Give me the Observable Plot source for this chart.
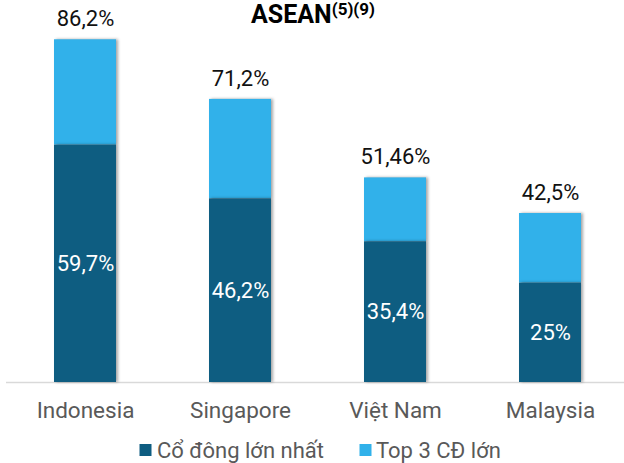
<!DOCTYPE html>
<html>
<head>
<meta charset="utf-8">
<script src="https://cdn.jsdelivr.net/npm/d3@7"></script>
<script src="https://cdn.jsdelivr.net/npm/@observablehq/plot@0.6"></script>
<style>
  html, body { margin: 0; padding: 0; background: #fff; }
  #chart svg { display: block; font-family: Roboto, sans-serif; }
  .bars { filter: drop-shadow(2px 0px 1.5px rgba(0,0,0,0.35)); }
</style>
</head>
<body>
<div id="chart"></div>
<script>
const countries = ["Indonesia", "Singapore", "Việt Nam", "Malaysia"];
const largestHolder = [59.7, 46.2, 35.4, 25];
const top3Holders = [86.2, 71.2, 51.46, 42.5];
const seriesNames = ["Cổ đông lớn nhất", "Top 3 CĐ lớn"];
const seriesColors = ["#0e5d81", "#31b1ea"];
const titleMain = "ASEAN";
const titleSup = "(5)(9)";

const fmt = v => String(v).replace(".", ",") + "%";
const rows = countries.map((c, i) => ({country: c, largest: largestHolder[i], top3: top3Holders[i]}));

const chart = Plot.plot({
  width: 624,
  height: 463,
  marginTop: 0,
  marginLeft: 6,
  marginRight: 0,
  marginBottom: 81,
  style: {fontFamily: "Roboto, sans-serif", background: "#fff"},
  x: {domain: countries, range: [7, 627], paddingInner: 0.6, paddingOuter: 0.3, label: null},
  y: {domain: [0, 100], range: [382, -15.6], axis: null},
  marks: [
    Plot.ruleY([0], {stroke: "#d9d9d9", strokeWidth: 1.5}),
    Plot.barY(rows, {x: "country", y1: "largest", y2: "top3", fill: seriesColors[1], className: "bars"}),
    Plot.barY(rows, {x: "country", y1: 0, y2: "largest", fill: seriesColors[0], className: "bars"}),
    Plot.text(rows, {x: "country", y: "top3", text: d => fmt(d.top3), dy: -20.5, fontSize: 22, fill: "#111"}),
    Plot.text(rows, {x: "country", y: d => d.largest / 2, text: d => fmt(d.largest), fontSize: 22, fill: "#fff"}),
    Plot.axisX({tickSize: 0, tickPadding: 20, fontSize: 22.5, color: "#595959", label: null})
  ]
});

const svg = d3.select(chart);
// title
const t = svg.append("text")
  .attr("x", 251).attr("y", 22.7)
  .attr("text-anchor", "start")
  .attr("font-family", "Roboto, sans-serif")
  .attr("font-weight", "bold").attr("font-size", 25).attr("fill", "#000");
t.append("tspan").text(titleMain);
t.append("tspan").attr("font-size", 17).attr("dy", -8).text(titleSup);

// legend
const legendItems = [
  {name: seriesNames[0], color: seriesColors[0], sx: 139.5, tx: 157},
  {name: seriesNames[1], color: seriesColors[1], sx: 359.5, tx: 376}
];
const lg = svg.append("g").attr("font-family", "Roboto, sans-serif").attr("font-size", 22).attr("text-anchor", "start");
legendItems.forEach(d => {
  lg.append("rect").attr("x", d.sx).attr("y", 444).attr("width", 12).attr("height", 12).attr("fill", d.color);
  lg.append("text").attr("x", d.tx).attr("y", 458).attr("fill", "#595959").text(d.name);
});

document.getElementById("chart").appendChild(chart);
</script>
</body>
</html>
